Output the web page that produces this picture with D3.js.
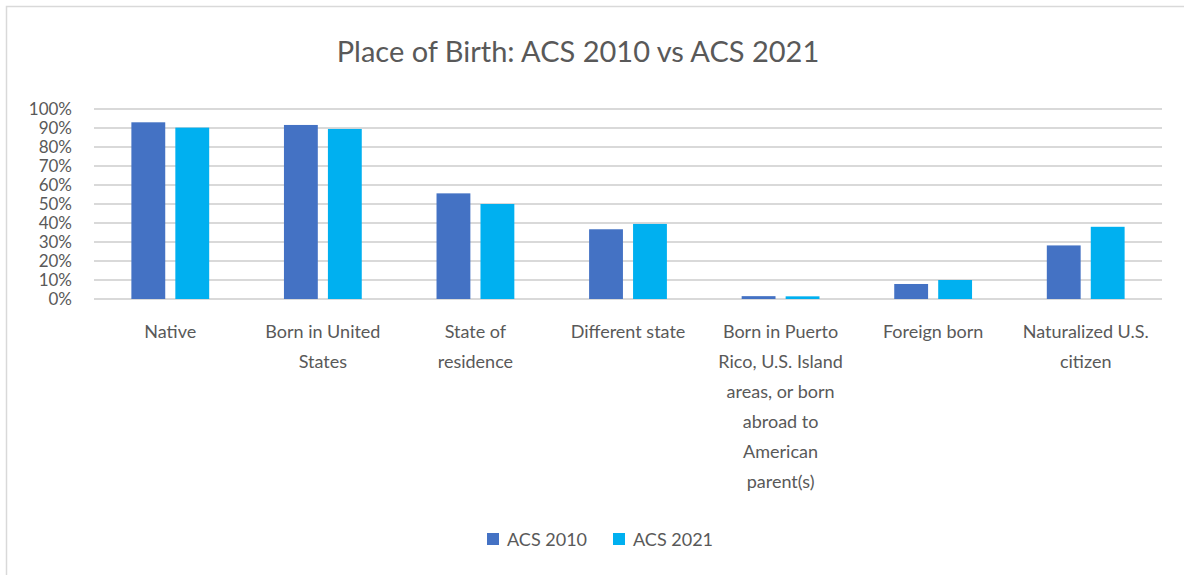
<!DOCTYPE html>
<html>
<head>
<meta charset="utf-8">
<script src="https://cdn.jsdelivr.net/npm/d3@7"></script>
<style>
  body { margin: 0; background: #fff; }
  svg text { font-family: Lato, "Open Sans", sans-serif; fill: #595959; }
</style>
</head>
<body>
<svg id="chart" width="1184" height="575"></svg>
<script>
// data
const categories = [
  'Native',
  'Born in United\nStates',
  'State of\nresidence',
  'Different state',
  'Born in Puerto\nRico, U.S. Island\nareas, or born\nabroad to\nAmerican\nparent(s)',
  'Foreign born',
  'Naturalized U.S.\ncitizen'
];
const seriesNames = ['ACS 2010', 'ACS 2021'];
const acs2010 = [0.93, 0.916, 0.556, 0.367, 0.015, 0.079, 0.282];
const acs2021 = [0.902, 0.895, 0.50, 0.395, 0.014, 0.10, 0.38];
const yTicks = [0, 0.1, 0.2, 0.3, 0.4, 0.5, 0.6, 0.7, 0.8, 0.9, 1.0];
const colors = ['#4472c4', '#00b0f0'];

const svg = d3.select('#chart');

// chart frame (only left/top edges show in the crop)
svg.append('path')
  .attr('d', 'M6.5,575 V6.5 H1184')
  .attr('fill', 'none')
  .attr('stroke', '#d9d9d9')
  .attr('stroke-width', 1.5);

svg.append('text')
  .attr('x', 578)
  .attr('y', 62)
  .attr('text-anchor', 'middle')
  .style('font-size', '29px')
  .text('Place of Birth: ACS 2010 vs ACS 2021');

const x0 = d3.scaleBand()
  .domain(categories)
  .range([94, 1162]);

const x1 = d3.scaleBand()
  .domain(seriesNames)
  .range([x0.bandwidth() * 0.245, x0.bandwidth() * 0.755])
  .paddingInner(0.23);

const y = d3.scaleLinear()
  .domain([0, 1])
  .range([299, 109]);

// gridlines
svg.append('g')
  .selectAll('line')
  .data(yTicks)
  .join('line')
  .attr('x1', 94)
  .attr('x2', 1162)
  .attr('y1', d => y(d))
  .attr('y2', d => y(d))
  .attr('stroke', '#d9d9d9')
  .attr('stroke-width', 2);

// y axis labels
const yAxis = svg.append('g')
  .attr('transform', 'translate(72,0)')
  .call(d3.axisLeft(y).tickValues(yTicks).tickFormat(d3.format('.0%')).tickSize(0).tickPadding(0));
yAxis.select('.domain').remove();
yAxis.selectAll('text')
  .style('font-size', '17px')
  .style('font-family', 'Lato, sans-serif')
  .attr('fill', '#595959');

// bars
const groups = svg.append('g')
  .selectAll('g')
  .data(categories.map((c, i) => ({ c: c, vals: [acs2010[i], acs2021[i]] })))
  .join('g')
  .attr('transform', d => 'translate(' + x0(d.c) + ',0)');

groups.selectAll('rect')
  .data(d => d.vals.map((v, j) => ({ name: seriesNames[j], v: v, j: j })))
  .join('rect')
  .attr('x', d => x1(d.name))
  .attr('width', x1.bandwidth())
  .attr('y', d => y(d.v))
  .attr('height', d => y(0) - y(d.v))
  .attr('fill', d => colors[d.j]);

// category labels
const catLabels = svg.append('g')
  .selectAll('text')
  .data(categories)
  .join('text')
  .attr('x', d => x0(d) + x0.bandwidth() / 2)
  .attr('y', 338)
  .attr('text-anchor', 'middle')
  .style('font-size', '18px');

catLabels.selectAll('tspan')
  .data(d => d.split('\n'))
  .join('tspan')
  .attr('x', function () { return d3.select(this.parentNode).attr('x'); })
  .attr('dy', (d, i) => i === 0 ? 0 : 30)
  .text(d => d);

// legend
const legendX = [487, 613];
const legend = svg.append('g')
  .selectAll('g')
  .data(seriesNames)
  .join('g')
  .attr('transform', (d, i) => 'translate(' + legendX[i] + ',533)');

legend.append('rect')
  .attr('width', 12)
  .attr('height', 12)
  .attr('fill', (d, i) => colors[i]);

legend.append('text')
  .attr('x', 20)
  .attr('y', 13)
  .style('font-size', '18px')
  .text(d => d);
</script>
</body>
</html>
